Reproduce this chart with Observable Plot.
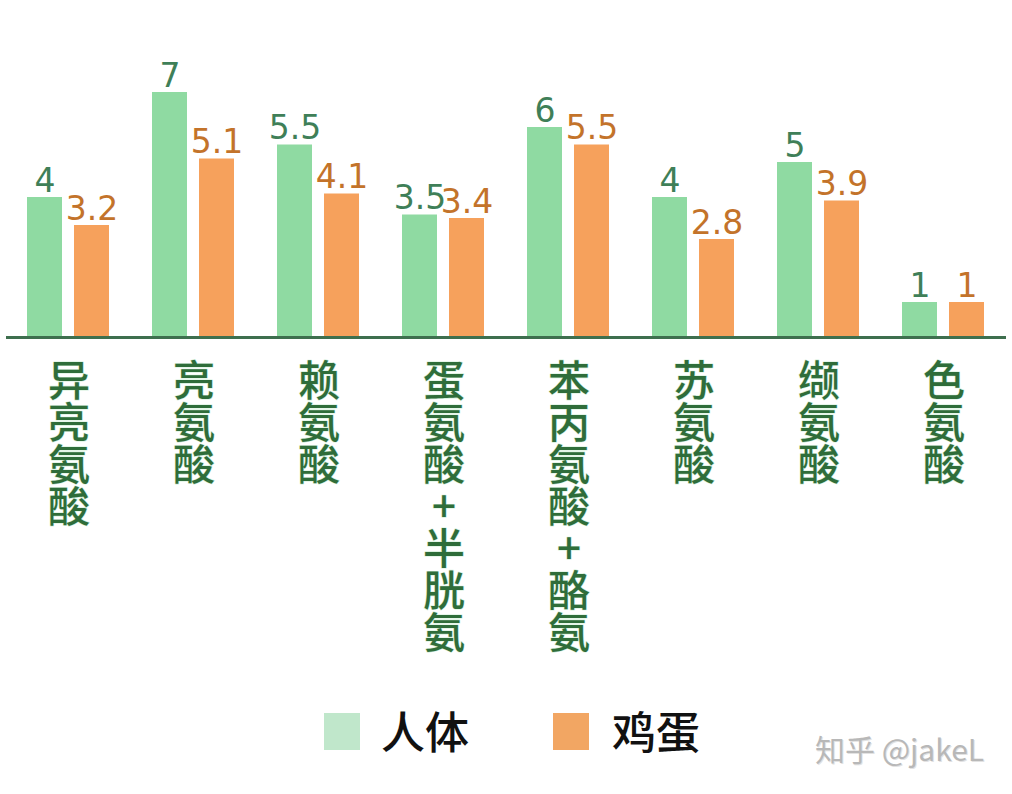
<!DOCTYPE html>
<html>
<head>
<meta charset="utf-8">
<script src="https://cdn.jsdelivr.net/npm/d3@7"></script>
<script src="https://cdn.jsdelivr.net/npm/@observablehq/plot@0.6"></script>
<style>
  html, body { margin: 0; padding: 0; background: #ffffff; }
  #wrap { position: relative; width: 1012px; height: 794px; overflow: hidden; }
  #legend { position: absolute; left: 0; top: 690px; width: 1012px; height: 104px; }
  .sw { position: absolute; width: 36px; height: 37px; top: 23px; }
  .lt { position: absolute; top: 14px; font: 500 44px "Noto Sans CJK SC", sans-serif; color: #111; line-height: 52px; }
  #wm { position: absolute; left: 815px; top: 36px; font: 400 30px "Noto Sans CJK SC", "DejaVu Sans", sans-serif; color: #b8b8b8; text-shadow: 1px 1px 0 #e2e2e2; }
</style>
</head>
<body>
<div id="wrap">
  <div id="chart"></div>
  <div id="legend"></div>
</div>
<script>
const categories = ["异亮氨酸", "亮氨酸", "赖氨酸", "蛋氨酸+半胱氨", "苯丙氨酸+酪氨", "苏氨酸", "缬氨酸", "色氨酸"];
const series = ["人体", "鸡蛋"];
const humanValues = [4, 7, 5.5, 3.5, 6, 4, 5, 1];
const eggValues = [3.2, 5.1, 4.1, 3.4, 5.5, 2.8, 3.9, 1];
const barColors = ["#8fdaa2", "#f6a15c"];
const labelColors = ["#3f7f58", "#c3732a"];
const legendColors = ["#c0e7cb", "#f2a663"];
const watermark = "知乎 @jakeL";

const rows = [];
categories.forEach((c, i) => {
  rows.push({category: c, series: series[0], value: humanValues[i]});
  rows.push({category: c, series: series[1], value: eggValues[i]});
});

const numFont = "DejaVu Sans, Liberation Sans, sans-serif";

const chart = Plot.plot({
  width: 1012,
  height: 690,
  marginLeft: 3,
  marginRight: 3,
  marginTop: 92,
  marginBottom: 353,
  style: {background: "transparent"},
  fx: {domain: categories, padding: 0, axis: null, label: null},
  x: {domain: series, axis: null, paddingInner: 0.25, paddingOuter: 0.434},
  y: {domain: [0, 7], axis: null},
  color: {domain: series, range: barColors},
  marks: [
    Plot.barY(rows, {fx: "category", x: "series", y: "value", fill: "series"}),
    Plot.text(rows.filter(d => d.series === series[0]), {
      fx: "category", x: "series", y: "value", text: d => String(d.value),
      lineAnchor: "bottom", dy: -6, fill: labelColors[0],
      fontSize: 33, fontFamily: numFont
    }),
    Plot.text(rows.filter(d => d.series === series[1]), {
      fx: "category", x: "series", y: "value", text: d => String(d.value),
      lineAnchor: "bottom", dy: -6, fill: labelColors[1],
      fontSize: 33, fontFamily: numFont
    }),
    Plot.ruleY([0], {stroke: "#3e6f4e", strokeWidth: 3}),
    Plot.text(categories, {
      fx: d => d, text: d => Array.from(d).join("\n"),
      frameAnchor: "bottom", lineAnchor: "top", dy: 29,
      lineHeight: 1.0, fontSize: 42, fontWeight: 500,
      fontFamily: "Noto Sans CJK SC, sans-serif",
      fill: "#2f6d3a", stroke: "#d6f0dc", strokeWidth: 1.2, paintOrder: "stroke"
    })
  ]
});
document.getElementById("chart").appendChild(chart);

const legend = document.getElementById("legend");
const swX = [324, 553];
const txtX = [381, 612];
series.forEach((s, i) => {
  const sw = document.createElement("div");
  sw.className = "sw";
  sw.style.left = swX[i] + "px";
  sw.style.background = legendColors[i];
  legend.appendChild(sw);
  const t = document.createElement("div");
  t.className = "lt";
  t.style.left = txtX[i] + "px";
  t.textContent = s;
  legend.appendChild(t);
});
const wm = document.createElement("div");
wm.id = "wm";
wm.textContent = watermark;
legend.appendChild(wm);
</script>
</body>
</html>
